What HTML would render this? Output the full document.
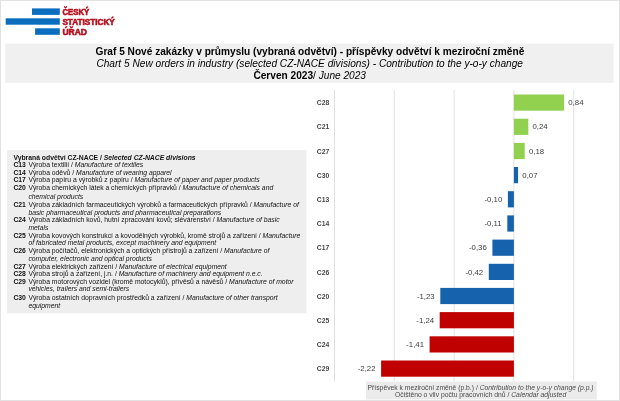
<!DOCTYPE html><html><head><meta charset="utf-8"><title>Graf 5</title><style>
html,body{margin:0;padding:0;background:#fff}svg{display:block;will-change:transform;opacity:0.999}text{font-family:"Liberation Sans",sans-serif}
.t{font-size:10.15px;fill:#000}.l{font-size:6.8px;fill:#111}.f{font-size:6.78px;fill:#4a4a4a}.v{font-size:7.8px;fill:#404040}.c{font-size:6.8px;fill:#484848;font-weight:bold}.lg{font-size:8.7px;font-weight:bold;fill:#B8101F;stroke:#B8101F;stroke-width:0.6px}
</style></head><body>
<svg width="620" height="401" viewBox="0 0 620 401">
<rect x="0" y="0" width="620" height="401" fill="#fff"/>
<rect x="0.5" y="0.5" width="619" height="400" fill="none" stroke="#e2e2e2" stroke-width="1"/>
<rect x="32" y="8.4" width="27.8" height="6.5" fill="#0A6DBD"/>
<rect x="5.7" y="18.3" width="54.1" height="6.4" fill="#0A6DBD"/>
<rect x="35.1" y="28.3" width="24.7" height="6.5" fill="#0A6DBD"/>
<text class="lg" x="62.4" y="14.9" textLength="26.8" lengthAdjust="spacingAndGlyphs">ČESKÝ</text>
<text class="lg" x="62.4" y="24.7" textLength="52.4" lengthAdjust="spacingAndGlyphs">STATISTICKÝ</text>
<text class="lg" x="62.4" y="34.5" textLength="24.6" lengthAdjust="spacingAndGlyphs">ÚŘAD</text>
<rect x="5.2" y="43.6" width="608.4" height="39.3" fill="#f0f0f0"/>
<text class="t" x="309.9" y="55.2" text-anchor="middle" font-weight="bold">Graf 5 Nové zakázky v průmyslu (vybraná odvětví) - příspěvky odvětví k meziroční změně</text>
<text class="t" x="309.7" y="66.8" text-anchor="middle" font-style="italic">Chart 5 New orders in industry (selected CZ-NACE divisions) - Contribution to the y-o-y change</text>
<text class="t" x="309.7" y="78.6" text-anchor="middle"><tspan font-weight="bold">Červen 2023</tspan>/ <tspan font-style="italic">June 2023</tspan></text>
<line x1="334.5" y1="90" x2="334.5" y2="381.5" stroke="#e0e0e0" stroke-width="1"/>
<line x1="394.3" y1="90" x2="394.3" y2="381.5" stroke="#e0e0e0" stroke-width="1"/>
<line x1="454.1" y1="90" x2="454.1" y2="381.5" stroke="#e0e0e0" stroke-width="1"/>
<line x1="513.9" y1="90" x2="513.9" y2="381.5" stroke="#e0e0e0" stroke-width="1"/>
<line x1="573.7" y1="90" x2="573.7" y2="381.5" stroke="#e0e0e0" stroke-width="1"/>
<rect x="513.9" y="94.5" width="50.2" height="16.2" fill="#92D050"/>
<text class="v" x="568.3" y="105.2">0,84</text>
<text class="c" x="316.8" y="105.2">C28</text>
<rect x="513.9" y="118.7" width="14.4" height="16.2" fill="#92D050"/>
<text class="v" x="532.5" y="129.4">0,24</text>
<text class="c" x="316.8" y="129.4">C21</text>
<rect x="513.9" y="142.9" width="10.8" height="16.2" fill="#92D050"/>
<text class="v" x="528.9" y="153.6">0,18</text>
<text class="c" x="316.8" y="153.6">C27</text>
<rect x="513.9" y="167.0" width="4.2" height="16.2" fill="#1762AD"/>
<text class="v" x="522.3" y="177.7">0,07</text>
<text class="c" x="316.8" y="177.7">C30</text>
<rect x="507.9" y="191.2" width="6.0" height="16.2" fill="#1762AD"/>
<text class="v" x="502.3" y="201.9" text-anchor="end">-0,10</text>
<text class="c" x="316.8" y="201.9">C13</text>
<rect x="507.3" y="215.4" width="6.6" height="16.2" fill="#1762AD"/>
<text class="v" x="501.7" y="226.1" text-anchor="end">-0,11</text>
<text class="c" x="316.8" y="226.1">C14</text>
<rect x="492.4" y="239.6" width="21.5" height="16.2" fill="#1762AD"/>
<text class="v" x="486.8" y="250.3" text-anchor="end">-0,36</text>
<text class="c" x="316.8" y="250.3">C17</text>
<rect x="488.8" y="263.8" width="25.1" height="16.2" fill="#1762AD"/>
<text class="v" x="483.2" y="274.5" text-anchor="end">-0,42</text>
<text class="c" x="316.8" y="274.5">C26</text>
<rect x="440.3" y="287.9" width="73.6" height="16.2" fill="#1762AD"/>
<text class="v" x="434.7" y="298.6" text-anchor="end">-1,23</text>
<text class="c" x="316.8" y="298.6">C20</text>
<rect x="439.7" y="312.1" width="74.2" height="16.2" fill="#C00000"/>
<text class="v" x="434.1" y="322.8" text-anchor="end">-1,24</text>
<text class="c" x="316.8" y="322.8">C25</text>
<rect x="429.6" y="336.3" width="84.3" height="16.2" fill="#C00000"/>
<text class="v" x="424.0" y="347.0" text-anchor="end">-1,41</text>
<text class="c" x="316.8" y="347.0">C24</text>
<rect x="381.1" y="360.5" width="132.8" height="16.2" fill="#C00000"/>
<text class="v" x="375.5" y="371.2" text-anchor="end">-2,22</text>
<text class="c" x="316.8" y="371.2">C29</text>
<rect x="6.9" y="150.2" width="299.6" height="163.1" fill="#eeeeee"/>
<text class="l" x="13.4" y="159.5"><tspan font-weight="bold">Vybraná odvětví CZ-NACE / <tspan font-style="italic">Selected CZ-NACE divisions</tspan></tspan></text>
<text class="l" x="13.4" y="167.3" font-weight="bold">C13</text>
<text class="l" x="28.4" y="167.3">Výroba textilií / <tspan font-style="italic">Manufacture of textiles</tspan></text>
<text class="l" x="13.4" y="175.0" font-weight="bold">C14</text>
<text class="l" x="28.4" y="175.0">Výroba oděvů / <tspan font-style="italic">Manufacture of wearing apparel</tspan></text>
<text class="l" x="13.4" y="182.2" font-weight="bold">C17</text>
<text class="l" x="28.4" y="182.2">Výroba papíru a výrobků z papíru / <tspan font-style="italic">Manufacture of paper and paper products</tspan></text>
<text class="l" x="13.4" y="190.2" font-weight="bold">C20</text>
<text class="l" x="28.4" y="190.2">Výroba chemických látek a chemických přípravků / <tspan font-style="italic">Manufacture of chemicals and</tspan></text>
<text class="l" x="28.4" y="198.5"><tspan font-style="italic">chemical products</tspan></text>
<text class="l" x="13.4" y="207.3" font-weight="bold">C21</text>
<text class="l" x="28.4" y="207.3">Výroba základních farmaceutických výrobků a farmaceutických přípravků / <tspan font-style="italic">Manufacture of</tspan></text>
<text class="l" x="28.4" y="214.5"><tspan font-style="italic">basic pharmaceutical products and pharmaceutical preparations</tspan></text>
<text class="l" x="13.4" y="222.2" font-weight="bold">C24</text>
<text class="l" x="28.4" y="222.2">Výroba základních kovů, hutní zpracování kovů; slévárenství / <tspan font-style="italic">Manufacture of basic</tspan></text>
<text class="l" x="28.4" y="230.0"><tspan font-style="italic">metals</tspan></text>
<text class="l" x="13.4" y="238.2" font-weight="bold">C25</text>
<text class="l" x="28.4" y="238.2">Výroba kovových konstrukcí a kovodělných výrobků, kromě strojů a zařízení / <tspan font-style="italic">Manufacture</tspan></text>
<text class="l" x="28.4" y="245.4"><tspan font-style="italic">of fabricated metal products, except machinery and equipment</tspan></text>
<text class="l" x="13.4" y="253.2" font-weight="bold">C26</text>
<text class="l" x="28.4" y="253.2">Výroba počítačů, elektronických a optických přístrojů a zařízení / <tspan font-style="italic">Manufacture of</tspan></text>
<text class="l" x="28.4" y="260.9"><tspan font-style="italic">computer, electronic and optical products</tspan></text>
<text class="l" x="13.4" y="268.7" font-weight="bold">C27</text>
<text class="l" x="28.4" y="268.7">Výroba elektrických zařízení / <tspan font-style="italic">Manufacture of electrical equipment</tspan></text>
<text class="l" x="13.4" y="275.9" font-weight="bold">C28</text>
<text class="l" x="28.4" y="275.9">Výroba strojů a zařízení, j.n. / <tspan font-style="italic">Manufacture of machinery and equipment n.e.c.</tspan></text>
<text class="l" x="13.4" y="283.7" font-weight="bold">C29</text>
<text class="l" x="28.4" y="283.7">Výroba motorových vozidel (kromě motocyklů), přívěsů a návěsů / <tspan font-style="italic">Manufacture of motor</tspan></text>
<text class="l" x="28.4" y="291.4"><tspan font-style="italic">vehicles, trailers and semi-trailers</tspan></text>
<text class="l" x="13.4" y="300.2" font-weight="bold">C30</text>
<text class="l" x="28.4" y="300.2">Výroba ostatních dopravních prostředků a zařízení / <tspan font-style="italic">Manufacture of other transport</tspan></text>
<text class="l" x="28.4" y="307.9"><tspan font-style="italic">equipment</tspan></text>
<rect x="366" y="381.5" width="230.8" height="18" fill="#ebebeb"/>
<text class="f" x="480.6" y="389.7" text-anchor="middle">Příspěvek k meziroční změně (p.b.) / <tspan font-style="italic">Contribution to the y-o-y change (p.p.)</tspan></text>
<text class="f" x="480.6" y="397.2" text-anchor="middle">Očištěno o vliv počtu pracovních dnů / <tspan font-style="italic">Calendar adjusted</tspan></text>
</svg></body></html>
